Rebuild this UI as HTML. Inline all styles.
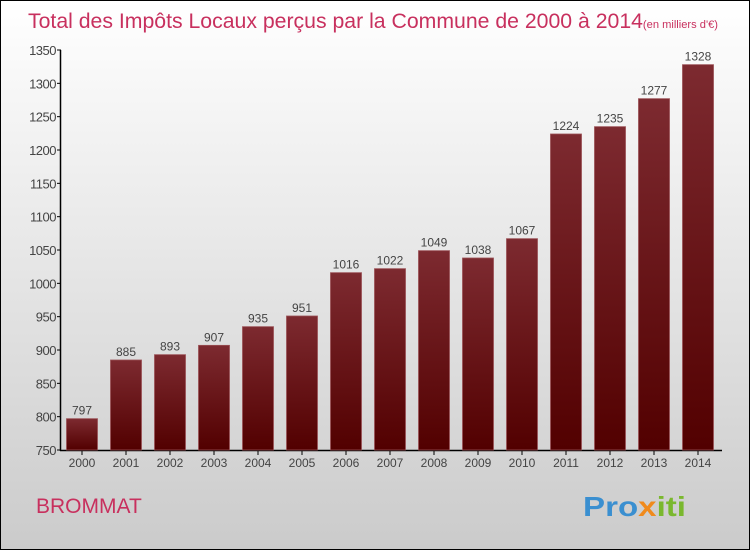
<!DOCTYPE html>
<html><head><meta charset="utf-8"><style>
html,body{margin:0;padding:0}
body{width:750px;height:550px;overflow:hidden;font-family:"Liberation Sans",sans-serif}
#wrap{position:absolute;left:0;top:0;width:748px;height:548px;border:1px solid #000;background:linear-gradient(#ffffff,#cbcbcb)}
</style></head><body>
<div id="wrap">
<svg id="chart" width="750" height="550" style="position:absolute;left:-1px;top:-1px">
<defs><linearGradient id="bg" x1="0" y1="0" x2="0" y2="1"><stop offset="0" stop-color="#7d2a30"/><stop offset="1" stop-color="#520000"/></linearGradient></defs>
<text x="28" y="28" font-size="21" fill="#c8305e" textLength="690" lengthAdjust="spacingAndGlyphs">Total des Impôts Locaux perçus par la Commune de 2000 à 2014<tspan font-size="11">(en milliers d'€)</tspan></text>
<text x="36" y="513" font-size="21" fill="#c8305e">BROMMAT</text>
<text x="583" y="516" font-size="28" font-weight="bold" textLength="103" lengthAdjust="spacingAndGlyphs"><tspan fill="#3a8fd0">Pro</tspan><tspan fill="#f08a1c">x</tspan><tspan fill="#7ab82e">iti</tspan></text>
<g id="axes"></g><g id="bars"></g>
</svg>
</div>
<script>
const years=["2000","2001","2002","2003","2004","2005","2006","2007","2008","2009","2010","2011","2012","2013","2014"];
const values=[797,885,893,907,935,951,1016,1022,1049,1038,1067,1224,1235,1277,1328];
const yTicks=[750,800,850,900,950,1000,1050,1100,1150,1200,1250,1300,1350];
const NS="http://www.w3.org/2000/svg";
const yScale=v=>450-(v-750)*400/600;
const xScale=i=>82+i*44;
const axes=document.getElementById('axes'),bars=document.getElementById('bars');
function mk(tag,attrs,parent,txt){const e=document.createElementNS(NS,tag);for(const k in attrs)e.setAttribute(k,attrs[k]);if(txt!==undefined)e.textContent=txt;parent.appendChild(e);return e;}
let l=mk('line',{x1:60.5,y1:50,x2:60.5,y2:451,stroke:'#000','stroke-width':1.5},axes);


l=mk('line',{x1:60,y1:450.5,x2:722,y2:450.5,stroke:'#000','stroke-width':1.5},axes);


yTicks.forEach(t=>{const y=yScale(t);
 mk('line',{x1:57,y1:y,x2:61,y2:y,stroke:'#000'},axes);
 const tx=mk('text',{x:56,y:y+5,'font-size':13,'text-anchor':'end',fill:'#444','letter-spacing':'-0.5'},axes,t);
 
 
});
years.forEach((yr,i)=>{const cx=xScale(i),v=values[i],top=yScale(v);
 mk('line',{x1:cx,y1:450,x2:cx,y2:455,stroke:'#000'},axes);
 const xl=mk('text',{x:cx,y:467,'font-size':12,'text-anchor':'middle',fill:'#444'},axes,yr);
 
 
 const r=mk('rect',{x:cx-15.5,y:top,width:31,height:450-top,fill:'url(#bg)',stroke:'#9a5055','stroke-width':0.8},bars);
 
 
 const vl=mk('text',{x:cx,y:top-4,'font-size':12,'text-anchor':'middle',fill:'#444'},bars,v);
 
 
});
</script>
</body></html>
